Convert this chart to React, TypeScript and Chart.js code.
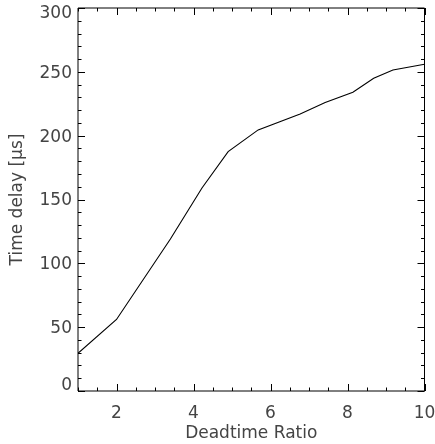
import React, { useEffect, useRef } from "react";
import { Chart, registerables } from "chart.js";

Chart.register(...registerables);

const ratios = [1, 2, 3.4, 4.22, 4.9, 5.68, 6.77, 7.42, 8.14, 8.68, 9.18, 10];
const delays = [29.5, 56, 119, 159, 187.5, 204.5, 217, 226, 234, 245, 251.5, 256];
const xTicks = [2, 4, 6, 8, 10];
const yTicks = [0, 50, 100, 150, 200, 250, 300];
const xMinorStep = 0.5;
const yMinorStep = 10;

const FONT = "'DejaVu Sans', sans-serif";
const TEXT = "#444";
const SIZE = 17;

const framePlugin = {
  id: "frameTicks",
  afterDraw(chart: any) {
    const { ctx, chartArea: a, scales } = chart;
    const xs = scales.x;
    const ys = scales.y;
    ctx.save();
    ctx.strokeStyle = "#000";
    ctx.lineWidth = 1;
    ctx.beginPath();
    ctx.rect(a.left, a.top, a.right - a.left, a.bottom - a.top);
    ctx.stroke();
    ctx.beginPath();
    for (let v = xs.min; v <= xs.max + 1e-9; v += xMinorStep) {
      const major = Math.abs(v / 2 - Math.round(v / 2)) < 1e-9;
      const len = major ? 7 : 3.5;
      const px = Math.round(xs.getPixelForValue(v)) + 0.5;
      ctx.moveTo(px, a.bottom);
      ctx.lineTo(px, a.bottom - len);
      ctx.moveTo(px, a.top);
      ctx.lineTo(px, a.top + len);
    }
    for (let v = ys.min; v <= ys.max + 1e-9; v += yMinorStep) {
      const major = Math.abs(v / 50 - Math.round(v / 50)) < 1e-9;
      const len = major ? 7 : 3.5;
      const py = Math.round(ys.getPixelForValue(v)) + 0.5;
      ctx.moveTo(a.left, py);
      ctx.lineTo(a.left + len, py);
      ctx.moveTo(a.right, py);
      ctx.lineTo(a.right - len, py);
    }
    ctx.stroke();

    // y tick labels (kept inside the axis range at the ends)
    ctx.fillStyle = TEXT;
    ctx.font = `${SIZE}px ${FONT}`;
    ctx.textAlign = "right";
    ctx.textBaseline = "middle";
    for (const v of yTicks) {
      let py = ys.getPixelForValue(v) + 1.5;
      if (v === ys.max) py = ys.getPixelForValue(v) + 5.5;
      if (v === ys.min) py = ys.getPixelForValue(v) - 5;
      ctx.fillText(String(v), a.left - 6, py);
    }
    ctx.restore();
  },
};

export default function App() {
  const ref = useRef<HTMLCanvasElement | null>(null);
  useEffect(() => {
    document.body.style.margin = "0";
    const canvas = ref.current!;
    const chart = new Chart(canvas, {
      type: "line",
      data: {
        datasets: [
          {
            data: ratios.map((r, i) => ({ x: r, y: delays[i] })),
            borderColor: "#000",
            borderWidth: 1.1,
            pointRadius: 0,
            tension: 0,
            fill: false,
          },
        ],
      },
      options: {
        responsive: false,
        animation: false,
        devicePixelRatio: 1,
        layout: { padding: { top: 8, right: 10.5, left: 0, bottom: 0 } },
        plugins: { legend: { display: false }, tooltip: { enabled: false } },
        scales: {
          x: {
            type: "linear",
            min: 1,
            max: 10,
            grid: { display: false, drawTicks: false },
            border: { display: false },
            afterBuildTicks: (s: any) => {
              s.ticks = xTicks.map((v) => ({ value: v }));
            },
            afterFit: (s: any) => {
              s.height = 53;
              s.paddingLeft = 0;
              s.paddingRight = 0;
            },
            ticks: {
              padding: 12,
              maxRotation: 0,
              autoSkip: false,
              color: TEXT,
              font: { family: FONT, size: SIZE },
            },
            title: {
              display: true,
              text: "Deadtime Ratio",
              color: TEXT,
              font: { family: FONT, size: SIZE },
              padding: { top: 0, bottom: 0 },
            },
          },
          y: {
            type: "linear",
            min: 0,
            max: 300,
            grid: { display: false, drawTicks: false },
            border: { display: false },
            afterBuildTicks: (s: any) => {
              s.ticks = yTicks.map((v) => ({ value: v }));
            },
            afterFit: (s: any) => {
              s.width = 78;
              s.paddingTop = 0;
              s.paddingBottom = 0;
            },
            ticks: { display: false },
            title: {
              display: true,
              text: "Time delay [μs]",
              color: TEXT,
              font: { family: FONT, size: SIZE },
              padding: { top: 7, bottom: 0 },
            },
          },
        },
      },
      plugins: [framePlugin],
    });
    return () => chart.destroy();
  }, []);
  return <canvas ref={ref} width={435} height={444} style={{ display: "block" }} />;
}
